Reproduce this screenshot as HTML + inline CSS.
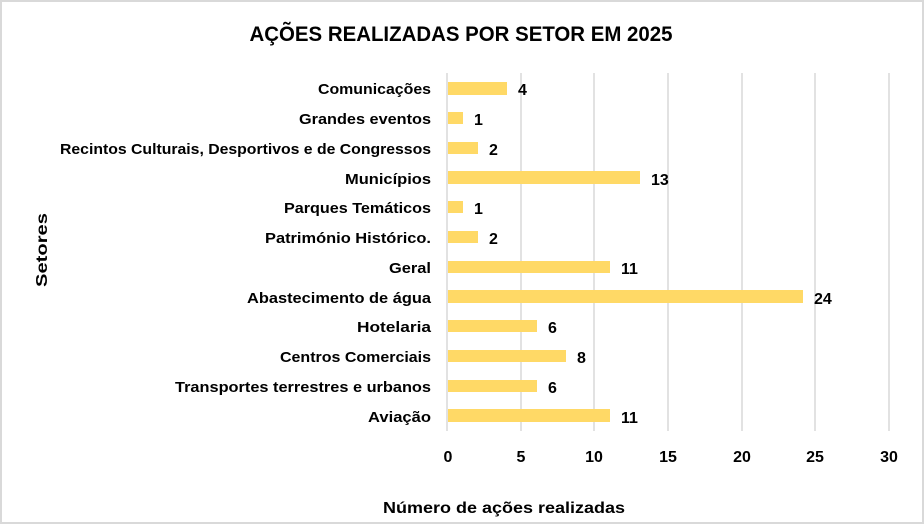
<!DOCTYPE html>
<html><head><meta charset="utf-8"><style>
html,body{margin:0;padding:0;background:#fff}
svg{display:block}
text{font-family:"Liberation Sans",sans-serif;font-weight:bold;fill:#000}
</style></head><body>
<svg width="924" height="524" viewBox="0 0 924 524" xmlns="http://www.w3.org/2000/svg">
<rect x="1" y="1" width="922" height="522" fill="#fff" stroke="#d9d9d9" stroke-width="2"/>
<text x="461" y="41" font-size="21" text-anchor="middle" textLength="423" lengthAdjust="spacingAndGlyphs">AÇÕES REALIZADAS POR SETOR EM 2025</text>
<g stroke="#d9d9d9" stroke-width="1.5">
<line x1="447" y1="73" x2="447" y2="431"/><line x1="521" y1="73" x2="521" y2="431"/><line x1="594" y1="73" x2="594" y2="431"/><line x1="668" y1="73" x2="668" y2="431"/><line x1="742" y1="73" x2="742" y2="431"/><line x1="815" y1="73" x2="815" y2="431"/><line x1="889" y1="73" x2="889" y2="431"/>
</g>
<g fill="#ffd966">
<rect x="448" y="82" width="59" height="13"/>
<rect x="448" y="112" width="15" height="12"/>
<rect x="448" y="142" width="30" height="12"/>
<rect x="448" y="171" width="192" height="13"/>
<rect x="448" y="201" width="15" height="12"/>
<rect x="448" y="231" width="30" height="12"/>
<rect x="448" y="261" width="162" height="12"/>
<rect x="448" y="290" width="355" height="13"/>
<rect x="448" y="320" width="89" height="12"/>
<rect x="448" y="350" width="118" height="12"/>
<rect x="448" y="380" width="89" height="12"/>
<rect x="448" y="409" width="162" height="13"/>
</g>
<g font-size="15" text-anchor="end">
<text x="431" y="94" textLength="113" lengthAdjust="spacingAndGlyphs">Comunicações</text>
<text x="431" y="124" textLength="132" lengthAdjust="spacingAndGlyphs">Grandes eventos</text>
<text x="431" y="154" textLength="371" lengthAdjust="spacingAndGlyphs">Recintos Culturais, Desportivos e de Congressos</text>
<text x="431" y="184" textLength="86" lengthAdjust="spacingAndGlyphs">Municípios</text>
<text x="431" y="213" textLength="147" lengthAdjust="spacingAndGlyphs">Parques Temáticos</text>
<text x="431" y="243" textLength="166" lengthAdjust="spacingAndGlyphs">Património Histórico.</text>
<text x="431" y="273" textLength="42" lengthAdjust="spacingAndGlyphs">Geral</text>
<text x="431" y="303" textLength="184" lengthAdjust="spacingAndGlyphs">Abastecimento de água</text>
<text x="431" y="332" textLength="74" lengthAdjust="spacingAndGlyphs">Hotelaria</text>
<text x="431" y="362" textLength="151" lengthAdjust="spacingAndGlyphs">Centros Comerciais</text>
<text x="431" y="392" textLength="256" lengthAdjust="spacingAndGlyphs">Transportes terrestres e urbanos</text>
<text x="431" y="422" textLength="63" lengthAdjust="spacingAndGlyphs">Aviação</text>
</g>
<g font-size="16">
<text x="518" y="95">4</text>
<text x="474" y="125">1</text>
<text x="489" y="155">2</text>
<text x="651" y="185">13</text>
<text x="474" y="214">1</text>
<text x="489" y="244">2</text>
<text x="621" y="274">11</text>
<text x="814" y="304">24</text>
<text x="548" y="333">6</text>
<text x="577" y="363">8</text>
<text x="548" y="393">6</text>
<text x="621" y="423">11</text>
</g>
<g font-size="16" text-anchor="middle">
<text x="448" y="462">0</text><text x="521" y="462">5</text><text x="594" y="462">10</text><text x="668" y="462">15</text><text x="742" y="462">20</text><text x="815" y="462">25</text><text x="889" y="462">30</text>
</g>
<text x="504" y="513" font-size="16" text-anchor="middle" textLength="242" lengthAdjust="spacingAndGlyphs">Número de ações realizadas</text>
<text transform="translate(47,250) rotate(-90)" font-size="16" text-anchor="middle" textLength="74" lengthAdjust="spacingAndGlyphs">Setores</text>
</svg>
</body></html>
